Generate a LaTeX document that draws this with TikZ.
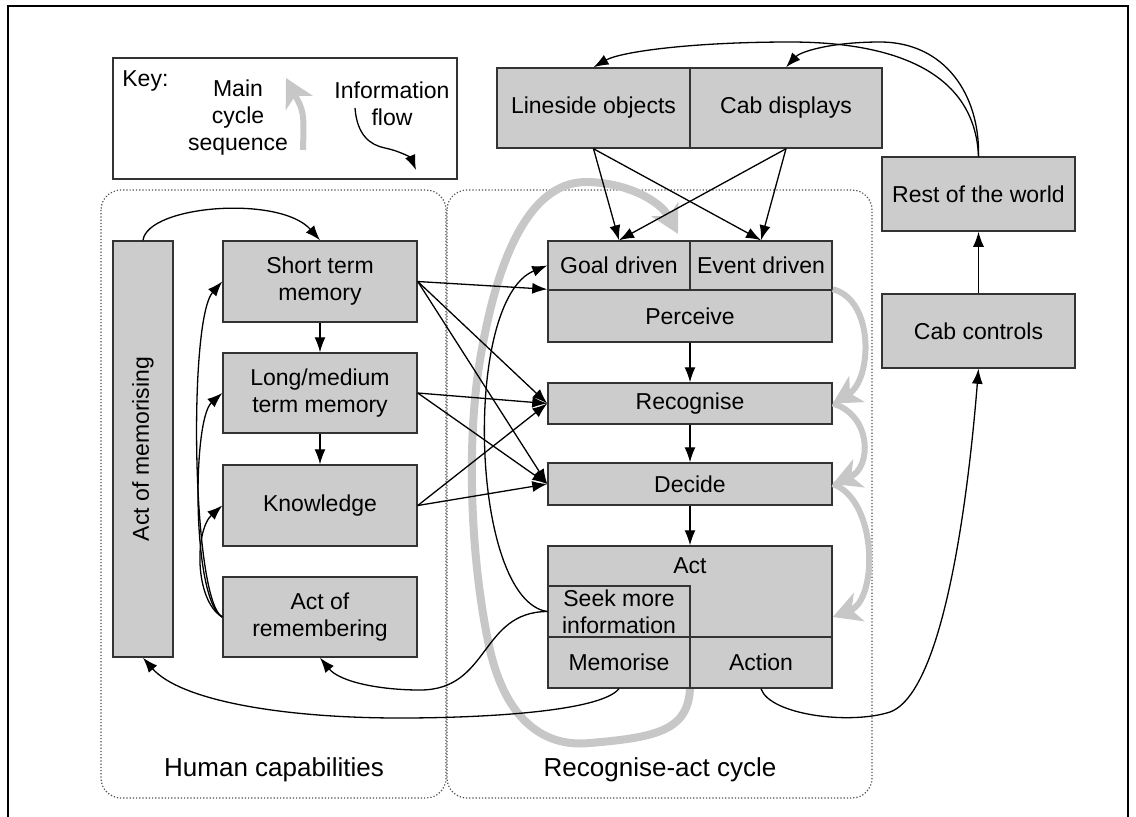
\documentclass[tikz,border=0pt]{standalone}
\usepackage{fontspec}
\setmainfont{Liberation Sans}
\usetikzlibrary{arrows.meta}
\tikzset{
	txt/.style={align=center, inner sep=1pt, font=\fontsize{11.5}{13.5}\selectfont},
	box/.style={txt, draw=black!80, fill=black!20, line width=0.75pt},
	lbl/.style={inner sep=1pt, font=\fontsize{13}{15}\selectfont},
	flow/.style={-{Latex[length=7.5pt,width=5.5pt]}, line width=0.65pt, black},
	cyc/.style={draw=black!22, line width=3pt, -{Stealth[length=14pt,width=15pt,inset=4pt]}},
	group/.style={draw=black!70, densely dotted, line width=0.6pt, rounded corners=10pt}
}
\begin{document}
\begin{tikzpicture}[x=0.5pt,y=-0.5pt]
	\useasboundingbox (0,0) rectangle (1136,816);
	\draw[line width=1pt] (8,830) -- (8,6) -- (1128,6) -- (1128,830);

	% key
	\node[draw=black!80, line width=0.75pt, minimum width=172pt, minimum height=60.5pt] (key) at (285,118.5) {};
	\node[txt, anchor=north west] (keyttl) at (120,68) {Key:};
	\node[txt] (keymain) at (238,118) {Main\\cycle\\sequence};
	\node[txt] (keyinfo) at (392,104) {Information\\flow};
	\coordinate (kg1) at (303,150);
	\coordinate (kg2) at (286,78);
	\draw[cyc] (kg1) .. controls (304,112) .. (kg2);
	\coordinate (kf1) at (355,108);
	\coordinate (kf2) at (416,170);
	\draw[flow] (kf1) .. controls (357,135) and (370,145) .. (385,148) .. controls (400,151) and (411,158) .. (kf2);

	% groups
	\draw[group] (101,190) rectangle (446,798);
	\draw[group] (447,190) rectangle (872,798);
	\node[lbl] (humlbl) at (274,770) {Human capabilities};
	\node[lbl] (cyclbl) at (660,770) {Recognise-act cycle};

	% main cycle
	\coordinate (loopa) at (690,680);
	\coordinate (loopb) at (678,234);
	\draw[cyc, line width=4pt] (loopa) .. controls (692,730) and (660,737) .. (590,743) .. controls (540,748) and (505,715) .. (490,650) .. controls (472,570) and (465,450) .. (480,360) .. controls (495,270) and (525,183) .. (585,182) .. controls (625,182) and (660,200) .. (loopb);

	% boxes
	\node[box, rotate=90, minimum width=208pt, minimum height=30pt] (memo) at (143,449) {Act of memorising};
	\node[box, minimum width=97pt, minimum height=40.5pt] (stm) at (320,281.5) {Short term\\memory};
	\node[box, minimum width=97pt, minimum height=40pt] (ltm) at (320,393) {Long/medium\\term memory};
	\node[box, minimum width=97pt, minimum height=40.5pt] (know) at (320,505.5) {Knowledge};
	\node[box, minimum width=97pt, minimum height=40pt] (remem) at (320,617) {Act of\\remembering};

	\node[box, minimum width=96.5pt, minimum height=40pt] (lineside) at (593.5,108) {Lineside objects};
	\node[box, minimum width=96pt, minimum height=40pt] (cabdisp) at (786,108) {Cab displays};

	\node[box, minimum width=71pt, minimum height=24.5pt] (goal) at (619,265.5) {Goal driven};
	\node[box, minimum width=71pt, minimum height=24.5pt] (event) at (761,265.5) {Event driven};
	\node[box, minimum width=142pt, minimum height=26pt] (perceive) at (690,316) {Perceive};
	\node[box, minimum width=142pt, minimum height=20.5pt] (recog) at (690,403.5) {Recognise};
	\node[box, minimum width=142pt, minimum height=21pt] (decide) at (690,484) {Decide};
	\node[box, minimum width=142pt, minimum height=71pt] (act) at (690,617) {};
	\node[txt] (actlbl) at (690,566) {Act};
	\node[box, minimum width=71pt, minimum height=25.5pt] (seek) at (619,611.5) {Seek more\\information};
	\node[box, minimum width=71pt, minimum height=25.5pt] (memorise) at (619,662.5) {Memorise};
	\node[box, minimum width=71pt, minimum height=25.5pt] (action) at (761,662.5) {Action};

	\node[box, minimum width=96.5pt, minimum height=37pt] (rotw) at (978.5,194) {Rest of the world};
	\node[box, minimum width=96.5pt, minimum height=37pt] (cabctrl) at (978.5,331) {Cab controls};

	% sequence on the right
	\draw[cyc] (perceive.north east) .. controls (875,300) and (872,380) .. (recog.east);
	\draw[cyc] (recog.east) .. controls (872,415) and (872,468) .. (decide.east);
	\draw[cyc] (decide.east) .. controls (878,500) and (878,600) .. (act.east);

	% information flow
	\path[flow]
	(stm.south) edge (ltm.north)
	(ltm.south) edge (know.north)
	(stm.east) edge (perceive.north west)
	(stm.east) edge (recog.west)
	(stm.east) edge (decide.west)
	(ltm.east) edge (recog.west)
	(ltm.east) edge (decide.west)
	(know.east) edge (recog.west)
	(know.east) edge (decide.west)
	(lineside.south) edge (goal.north)
	(lineside.south) edge (event.north)
	(cabdisp.south) edge (goal.north)
	(cabdisp.south) edge (event.north)
	(perceive.south) edge (recog.north)
	(recog.south) edge (decide.north)
	(decide.south) edge (act.north)
	(cabctrl.north) edge (rotw.south);

	\draw[flow] (memo.east) .. controls (148,205) and (280,195) .. (stm.north);
	\draw[flow] (remem.west) .. controls (192,600) and (188,320) .. (stm.west);
	\draw[flow] (remem.west) .. controls (192,600) and (192,420) .. (ltm.west);
	\draw[flow] (remem.west) .. controls (194,600) and (195,530) .. (know.west);
	\draw[flow] (seek.west) .. controls (470,600) and (462,300) .. (goal.west);
	\draw[flow] (seek.west) .. controls (480,612) and (490,690) .. (420,690) .. controls (380,690) and (340,682) .. (remem.south);
	\draw[flow] (memorise.south) .. controls (600,712) and (480,718) .. (400,718) .. controls (280,718) and (180,700) .. (memo.west);
	\draw[flow] (action.south) .. controls (770,715) and (850,725) .. (890,712) .. controls (950,690) and (972,450) .. (cabctrl.south);
	\draw[flow] (rotw.north) .. controls (975,75) and (900,42) .. (790,42) .. controls (690,42) and (620,52) .. (lineside.north);
	\draw[flow] (rotw.north) .. controls (980,95) and (945,42) .. (880,42) .. controls (830,42) and (800,52) .. (cabdisp.north);
\end{tikzpicture}
\end{document}
